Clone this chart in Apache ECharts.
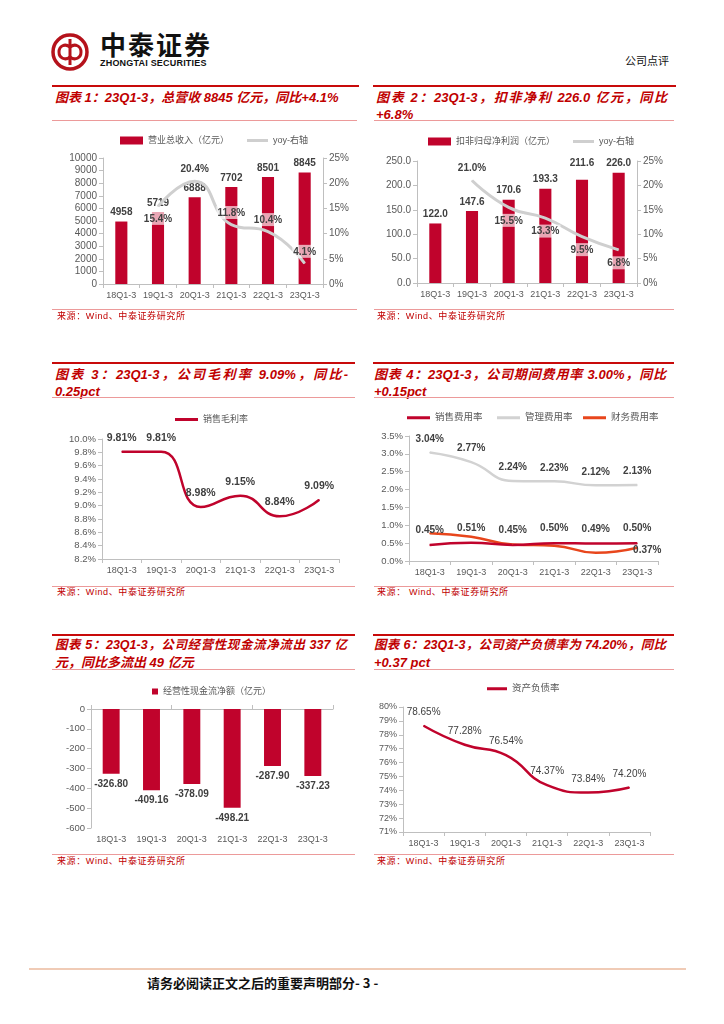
<!DOCTYPE html>
<html><head><meta charset="utf-8">
<script src="https://cdn.jsdelivr.net/npm/echarts@6/dist/echarts.min.js"></script>
<style>
body{margin:0;width:724px;height:1024px;position:relative;background:#fff;font-family:'Liberation Sans','Noto Sans CJK SC',sans-serif;overflow:hidden}
.abs{position:absolute}
.redline{position:absolute;height:2px;background:#c80a0a}
.pinkline{position:absolute;height:1px;background:#ec9a9a}
.tl{position:absolute;color:#c00000;font-weight:bold;font-style:italic;font-size:13px;line-height:17px;white-space:nowrap;font-family:'Liberation Sans','Noto Sans CJK SC',sans-serif}
.j{text-align:justify;text-align-last:justify}
.src{position:absolute;color:#c00000;font-size:9px;letter-spacing:0.6px;line-height:10px;font-family:'Liberation Sans','Noto Sans CJK SC',sans-serif}
.chart{position:absolute}
</style></head><body>

<svg class="abs" style="left:50px;top:32px" width="40" height="40" viewBox="0 0 40 40">
  <circle cx="20" cy="20" r="17" fill="none" stroke="#b5121b" stroke-width="3.5"/>
  <path d="M20 7 L20 33" stroke="#b5121b" stroke-width="3" fill="none"/>
  <path d="M20 15 C15 11 9 14 9 20 C9 26 15 29 20 25" stroke="#b5121b" stroke-width="3" fill="none"/>
  <path d="M20 15 C25 11 31 14 31 20 C31 26 25 29 20 25" stroke="#b5121b" stroke-width="3" fill="none"/>
</svg>
<div class="abs" style="left:100px;top:30px;font-size:26px;line-height:28px;font-weight:bold;letter-spacing:2px;color:#111;font-family:'Noto Sans CJK SC'">中泰证券</div>
<div class="abs" style="left:100px;top:58px;font-size:9px;line-height:10px;font-weight:bold;color:#111;letter-spacing:0.2px">ZHONGTAI SECURITIES</div>
<div class="abs" style="left:625px;top:54px;font-size:11px;line-height:12px;color:#111;font-family:'Noto Sans CJK SC'">公司点评</div>

<div class="redline" style="left:52px;top:85px;width:307px"></div>
<div class="redline" style="left:373px;top:85px;width:303px"></div>

<div class="tl" style="left:55px;top:89px">图表 1：23Q1-3，总营收 8845 亿元，同比+4.1%</div>
<div class="tl j" style="left:376px;top:89px;width:291px">图表 2：23Q1-3，扣非净利 226.0 亿元，同比</div>
<div class="tl" style="left:376px;top:106px">+6.8%</div>
<div class="pinkline" style="left:52px;top:120px;width:305px"></div>
<div class="pinkline" style="left:374px;top:120px;width:300px"></div>

<div class="chart" id="c1" style="left:52px;top:125px;width:310px;height:185px"></div>
<div class="chart" id="c2" style="left:372px;top:125px;width:300px;height:185px"></div>

<div class="pinkline" style="left:52px;top:309px;width:305px"></div>
<div class="pinkline" style="left:374px;top:309px;width:300px"></div>
<div class="src" style="left:57px;top:311px">来源：Wind、中泰证券研究所</div>
<div class="src" style="left:377px;top:311px">来源：Wind、中泰证券研究所</div>

<div class="redline" style="left:52px;top:362px;width:303px"></div>
<div class="redline" style="left:373px;top:362px;width:301px"></div>
<div class="tl j" style="left:55px;top:366px;width:293px">图表 3：23Q1-3，公司毛利率 9.09%，同比-</div>
<div class="tl" style="left:55px;top:383px">0.25pct</div>
<div class="tl j" style="left:374px;top:366px;width:292px">图表 4：23Q1-3，公司期间费用率 3.00%，同比</div>
<div class="tl" style="left:374px;top:383px">+0.15pct</div>
<div class="pinkline" style="left:52px;top:397px;width:303px"></div>
<div class="pinkline" style="left:374px;top:397px;width:300px"></div>

<div class="chart" id="c3" style="left:52px;top:400px;width:310px;height:186px"></div>
<div class="chart" id="c4" style="left:372px;top:400px;width:300px;height:186px"></div>

<div class="pinkline" style="left:52px;top:586px;width:303px"></div>
<div class="pinkline" style="left:374px;top:586px;width:300px"></div>
<div class="src" style="left:57px;top:587px">来源：Wind、中泰证券研究所</div>
<div class="src" style="left:377px;top:587px">来源：&nbsp;Wind、中泰证券研究所</div>

<div class="redline" style="left:52px;top:634px;width:303px"></div>
<div class="redline" style="left:373px;top:634px;width:301px"></div>
<div class="tl j" style="left:55px;top:637px;width:292px;font-size:12.5px">图表 5：23Q1-3，公司经营性现金流净流出 337 亿</div>
<div class="tl" style="left:55px;top:654px">元，同比多流出 49 亿元</div>
<div class="tl j" style="left:374px;top:637px;width:292px;font-size:12.5px">图表 6：23Q1-3，公司资产负债率为 74.20%，同比</div>
<div class="tl" style="left:374px;top:654px">+0.37 pct</div>
<div class="pinkline" style="left:52px;top:669px;width:303px"></div>
<div class="pinkline" style="left:374px;top:669px;width:300px"></div>

<div class="chart" id="c5" style="left:52px;top:672px;width:310px;height:182px"></div>
<div class="chart" id="c6" style="left:372px;top:672px;width:300px;height:182px"></div>

<div class="pinkline" style="left:52px;top:854px;width:303px"></div>
<div class="pinkline" style="left:374px;top:854px;width:300px"></div>
<div class="src" style="left:57px;top:856px">来源：Wind、中泰证券研究所</div>
<div class="src" style="left:377px;top:856px">来源：Wind、中泰证券研究所</div>

<div class="abs" style="left:29px;top:968px;width:657px;height:2px;background:#f0cbb6"></div>
<div class="abs" style="left:147px;top:975px;font-size:13px;line-height:16px;font-weight:bold;color:#111;font-family:'Noto Sans CJK SC'">请务必阅读正文之后的重要声明部分- 3 -</div>

<script>
const categories = ['18Q1-3','19Q1-3','20Q1-3','21Q1-3','22Q1-3','23Q1-3'];
const revenue = [4958, 5719, 6888, 7702, 8501, 8845];
const revenueYoy = ['-', 15.4, 20.4, 11.8, 10.4, 4.1];
const profit = [122.0, 147.6, 170.6, 193.3, 211.6, 226.0];
const profitYoy = ['-', 21.0, 15.5, 13.3, 9.5, 6.8];
const grossMargin = [9.81, 9.81, 8.98, 9.15, 8.84, 9.09];
const sellingRate = [0.45, 0.51, 0.45, 0.50, 0.49, 0.50];
const adminRate = [3.04, 2.77, 2.24, 2.23, 2.12, 2.13];
const financeRate = [0.78, 0.68, 0.46, 0.43, 0.23, 0.37];
const operatingCF = [-326.80, -409.16, -378.09, -498.21, -287.90, -337.23];
const debtRatio = [78.65, 77.28, 76.54, 74.37, 73.84, 74.20];

const FF = "'Liberation Sans','Noto Sans CJK SC',sans-serif";
const RED = '#c0032c';
const AXC = '#bfbfbf';
const TXT = '#595959';
const LBL = '#404040';

function xAxisBase(fs, extra) {
  return Object.assign({
    type: 'category', data: categories,
    axisLine: {show: true, lineStyle: {color: AXC}},
    axisTick: {show: true, length: 4, lineStyle: {color: AXC}},
    axisLabel: {color: TXT, fontSize: fs, fontFamily: FF, margin: 7, interval: 0}
  }, extra || {});
}
function yAxisBase(min, max, interval, fmt, fs, extra) {
  return Object.assign({
    type: 'value', min: min, max: max, interval: interval,
    axisLine: {show: true, lineStyle: {color: AXC}},
    axisTick: {show: true, length: 4, lineStyle: {color: AXC}},
    splitLine: {show: false},
    axisLabel: {color: TXT, fontSize: fs, fontFamily: FF, formatter: fmt || (v => String(v)), margin: 6}
  }, extra || {});
}
function legendBase(name, left, top, w, h, fs) {
  return {data: [name], left: left, top: top, icon: 'rect', itemWidth: w, itemHeight: h,
    textStyle: {color: TXT, fontSize: fs || 9, fontFamily: FF}};
}
function gridBase(l, t, r, b) {
  return {left: l, top: t, right: r, bottom: b, containLabel: false, outerBoundsMode: 'none'};
}
function withPos(values, posFn) {
  return values.map((v, i) => (v === '-' ? v : {value: v, label: {position: posFn(i)}}));
}
function lineBase(color, width) {
  return {type: 'line', smooth: 0.5, symbol: 'circle', symbolSize: 1, showSymbol: true,
    lineStyle: {color: color, width: width}, itemStyle: {color: color}};
}

// Chart 1
echarts.init(document.getElementById('c1')).setOption({
  animation: false,
  grid: gridBase(51, 33, 39, 26),
  legend: [legendBase('营业总收入（亿元）', 63, 6, 23, 8), legendBase('yoy-右轴', 190, 6, 21, 3)],
  xAxis: xAxisBase(9),
  yAxis: [yAxisBase(0, 10000, 1000, null, 10),
          yAxisBase(0, 25, 5, v => v + '%', 10)],
  series: [
    {name: '营业总收入（亿元）', type: 'bar', data: revenue, barWidth: '33%', itemStyle: {color: RED},
     label: {show: true, position: 'top', distance: 4, color: LBL, fontSize: 10, fontWeight: 'bold', fontFamily: FF}, z: 2},
    Object.assign(lineBase('#cfcfcf', 3), {name: 'yoy-右轴', yAxisIndex: 1,
     data: withPos(revenueYoy, i => (i === 1 ? 'bottom' : 'top')),
     label: {show: true, color: LBL, fontSize: 10, fontWeight: 'bold', fontFamily: FF, distance: 5,
             backgroundColor: 'rgba(255,255,255,0.65)', padding: [2, 1, 1, 1], formatter: p => p.value.toFixed(1) + '%'}, z: 3})
  ]
});

// Chart 2
echarts.init(document.getElementById('c2')).setOption({
  animation: false,
  grid: gridBase(45, 36, 35, 27),
  legend: [legendBase('扣非归母净利润（亿元）', 51, 7, 23, 8), legendBase('yoy-右轴', 196, 7, 21, 3)],
  xAxis: xAxisBase(9),
  yAxis: [yAxisBase(0, 250, 50, v => v.toFixed(1), 10),
          yAxisBase(0, 25, 5, v => v + '%', 10)],
  series: [
    {name: '扣非归母净利润（亿元）', type: 'bar', barWidth: '33%', itemStyle: {color: RED},
     data: profit.map((v, i) => (i === 4 ? {value: v, label: {distance: 11}} : v)),
     label: {show: true, position: 'top', distance: 4, color: LBL, fontSize: 10, fontWeight: 'bold', fontFamily: FF, formatter: p => p.value.toFixed(1)}, z: 2},
    Object.assign(lineBase('#cfcfcf', 3), {name: 'yoy-右轴', yAxisIndex: 1,
     data: withPos(profitYoy, i => (i === 1 ? 'top' : 'bottom')),
     label: {show: true, color: LBL, fontSize: 10, fontWeight: 'bold', fontFamily: FF, distance: 6,
             backgroundColor: 'rgba(255,255,255,0.65)', padding: [2, 1, 1, 1], formatter: p => p.value.toFixed(1) + '%'}, z: 3})
  ]
});

// Chart 3
echarts.init(document.getElementById('c3')).setOption({
  animation: false,
  grid: gridBase(50, 39, 23, 27),
  legend: [legendBase('销售毛利率', 118, 10, 23, 3)],
  xAxis: xAxisBase(9),
  yAxis: yAxisBase(8.2, 10.0, 0.2, v => v.toFixed(1) + '%', 9.5),
  series: [
    Object.assign(lineBase(RED, 2.5), {name: '销售毛利率', data: grossMargin,
     label: {show: true, position: 'top', distance: 8, color: LBL, fontSize: 10.5, fontWeight: 'bold', fontFamily: FF,
             formatter: p => p.value.toFixed(2) + '%'}})
  ]
});

// Chart 4
echarts.init(document.getElementById('c4')).setOption({
  animation: false,
  grid: gridBase(37, 36, 14, 25),
  legend: [legendBase('销售费用率', 30, 8, 23, 3, 9.5), legendBase('管理费用率', 120, 8, 23, 3, 9.5), legendBase('财务费用率', 206, 8, 23, 3, 9.5)],
  xAxis: xAxisBase(9),
  yAxis: yAxisBase(0, 3.5, 0.5, v => v.toFixed(1) + '%', 9.5),
  series: [
    Object.assign(lineBase('#d2d2d2', 2.5), {name: '管理费用率', data: adminRate,
     label: {show: true, position: 'top', distance: 8, color: LBL, fontSize: 10, fontWeight: 'bold', fontFamily: FF,
             formatter: p => p.value.toFixed(2) + '%'}}),
    Object.assign(lineBase('#e8461c', 2.5), {name: '财务费用率',
     data: financeRate.map((v, i) => (i === 5 ? {value: v, label: {show: true}} : v)),
     label: {show: false, position: 'bottom', offset: [10, -7], distance: 4, color: LBL, fontSize: 10, fontWeight: 'bold', fontFamily: FF,
             formatter: p => p.value.toFixed(2) + '%'}}),
    Object.assign(lineBase(RED, 2.5), {name: '销售费用率', data: sellingRate,
     label: {show: true, position: 'top', distance: 9, color: LBL, fontSize: 10, fontWeight: 'bold', fontFamily: FF,
             formatter: p => p.value.toFixed(2) + '%'}})
  ]
});

// Chart 5
echarts.init(document.getElementById('c5')).setOption({
  animation: false,
  grid: gridBase(39, 37, 29, 26),
  legend: [legendBase('经营性现金流净额（亿元）', 95, 10, 6, 6)],
  xAxis: [xAxisBase(9, {position: 'top', axisLabel: {show: false}}),
          xAxisBase(9, {position: 'bottom', axisLine: {show: false}, axisTick: {show: false}})],
  yAxis: yAxisBase(-600, 0, 100, null, 9.5),
  series: [
    {name: '经营性现金流净额（亿元）', type: 'bar', xAxisIndex: 0, data: operatingCF, barWidth: '42%', itemStyle: {color: RED},
     label: {show: true, position: 'bottom', distance: 5, color: LBL, fontSize: 10, fontWeight: 'bold', fontFamily: FF,
             formatter: p => p.value.toFixed(2)}}
  ]
});

// Chart 6
echarts.init(document.getElementById('c6')).setOption({
  animation: false,
  grid: gridBase(31, 35, 22, 22),
  legend: [legendBase('资产负债率', 110, 7, 20, 3, 9.5)],
  xAxis: xAxisBase(9),
  yAxis: yAxisBase(71, 80, 1, v => v + '%', 9),
  series: [
    Object.assign(lineBase(RED, 2.5), {name: '资产负债率', data: debtRatio,
     label: {show: true, position: 'top', distance: 8, color: LBL, fontSize: 10, fontFamily: FF,
             formatter: p => p.value.toFixed(2) + '%'}})
  ]
});
</script>
</body></html>
